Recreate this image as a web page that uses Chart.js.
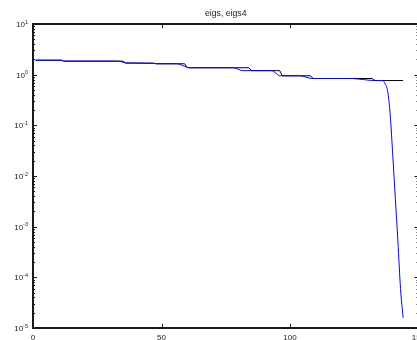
<!DOCTYPE html>
<html lang="en">
<head>
  <meta charset="UTF-8" />
  <title>eigs, eigs4</title>
  <style>
    html, body {
      margin: 0;
      padding: 0;
      background: #fff;
      overflow: hidden;
    }
    #plot {
      display: block;
    }
  </style>
</head>
<body>
  <canvas id="plot" width="425" height="340" style="width:425px;height:340px;"></canvas>

  <script src="https://cdn.jsdelivr.net/npm/chart.js"></script>
  <script>
    // eigs: step-wise eigenvalue estimates
    const eigsX = [1, 11, 12, 35, 36, 47, 48, 59, 60, 84, 85, 96, 97, 108, 109, 132, 133, 144];
    const eigsY = [1.93, 1.93, 1.85, 1.85, 1.70, 1.68, 1.64, 1.64, 1.37, 1.37, 1.20, 1.20, 0.95, 0.95, 0.84, 0.84, 0.765, 0.765];

    // eigs4: smoother estimates, collapsing at the end
    const eigs4X = [1, 11, 12, 33, 34.7, 36.3, 47, 48, 56, 58.5, 61, 78, 79.8, 81.7, 93, 94.5, 96,
                    104, 106.3, 108.5, 124, 128.5, 133, 136, 137, 138, 139, 140, 141, 142, 143, 144];
    const eigs4Y = [1.93, 1.93, 1.85, 1.85, 1.78, 1.70, 1.68, 1.64, 1.64, 1.50, 1.37, 1.37, 1.28, 1.20, 1.20, 1.07, 0.95,
                    0.95, 0.89, 0.84, 0.84, 0.80, 0.765, 0.765, 0.66, 0.47, 0.16, 0.025, 0.0035, 5e-4, 6e-5, 1.6e-5];

    const xTicks = [0, 50, 100, 150];
    const yExponents = [-5, -4, -3, -2, -1, 0, 1];
    const titleText = "eigs, eigs4";

    const FONT = "'Liberation Sans', Arial, Helvetica, sans-serif";

    const toPoints = (xs, ys) => xs.map((x, i) => ({ x: x, y: ys[i] }));

    // box, inward ticks and labels drawn the matlab way
    const matlabAxes = {
      id: "matlabAxes",
      afterDatasetsDraw(chart) {
        const { ctx, chartArea: a, scales: { x, y } } = chart;
        ctx.save();

        const seg = (x1, y1, x2, y2) => {
          ctx.beginPath();
          ctx.moveTo(x1, y1);
          ctx.lineTo(x2, y2);
          ctx.stroke();
        };

        ctx.strokeStyle = "#111";
        ctx.lineWidth = 1;
        xTicks.forEach(v => {
          const px = Math.round(x.getPixelForValue(v)) + 0.5;
          seg(px, a.bottom, px, a.bottom - 4);
          seg(px, a.top, px, a.top + 4);
        });

        yExponents.forEach(e => {
          for (let m = 1; m <= 9; m++) {
            const v = m * Math.pow(10, e);
            if (v > y.max * 1.0001) continue;
            const py = Math.round(y.getPixelForValue(v)) + 0.5;
            const len = m === 1 ? 4 : 2;
            seg(a.left, py, a.left + len, py);
            seg(a.right, py, a.right - len, py);
          }
        });

        ctx.lineWidth = 2;
        ctx.strokeStyle = "#1a1a1a";
        ctx.strokeRect(a.left, a.top, a.right - a.left, a.bottom - a.top);

        // tick labels
        ctx.fillStyle = "#222";
        ctx.textBaseline = "alphabetic";
        ctx.font = "8px " + FONT;
        ctx.textAlign = "center";
        xTicks.forEach(v => {
          ctx.fillText(String(v), x.getPixelForValue(v), a.bottom + 11.5);
        });

        const labelRight = a.left - 5;
        yExponents.forEach(e => {
          const py = y.getPixelForValue(Math.pow(10, e));
          const exp = String(e);
          ctx.font = "5.5px " + FONT;
          ctx.textAlign = "right";
          ctx.fillText(exp, labelRight, py - 0.5);
          const w = ctx.measureText(exp).width;
          ctx.font = "8px " + FONT;
          ctx.fillText("10", labelRight - w, py + 3);
        });

        // title
        ctx.font = "8.7px " + FONT;
        ctx.textAlign = "center";
        ctx.fillText(titleText, (a.left + a.right) / 2, 16);

        ctx.restore();
      }
    };

    new Chart(document.getElementById("plot"), {
      type: "line",
      data: {
        datasets: [
          {
            label: "eigs",
            data: toPoints(eigsX, eigsY),
            borderColor: "#000000",
            borderWidth: 1,
            pointRadius: 0,
            tension: 0,
            order: 2
          },
          {
            label: "eigs4",
            data: toPoints(eigs4X, eigs4Y),
            borderColor: "#0000ff",
            borderWidth: 1,
            pointRadius: 0,
            cubicInterpolationMode: "monotone",
            order: 1
          }
        ]
      },
      options: {
        responsive: false,
        animation: false,
        events: [],
        layout: {
          padding: { left: 0, right: 6.5, top: 24, bottom: 0 }
        },
        plugins: {
          legend: { display: false },
          title: { display: false },
          tooltip: { enabled: false }
        },
        scales: {
          x: {
            type: "linear",
            min: 0,
            max: 150,
            ticks: { display: false },
            grid: { display: false },
            border: { display: false },
            afterFit(scale) { scale.height = 12; }
          },
          y: {
            type: "logarithmic",
            min: 1e-5,
            max: 10,
            ticks: { display: false },
            grid: { display: false },
            border: { display: false },
            afterFit(scale) { scale.width = 33; }
          }
        }
      },
      plugins: [matlabAxes]
    });
  </script>
</body>
</html>
